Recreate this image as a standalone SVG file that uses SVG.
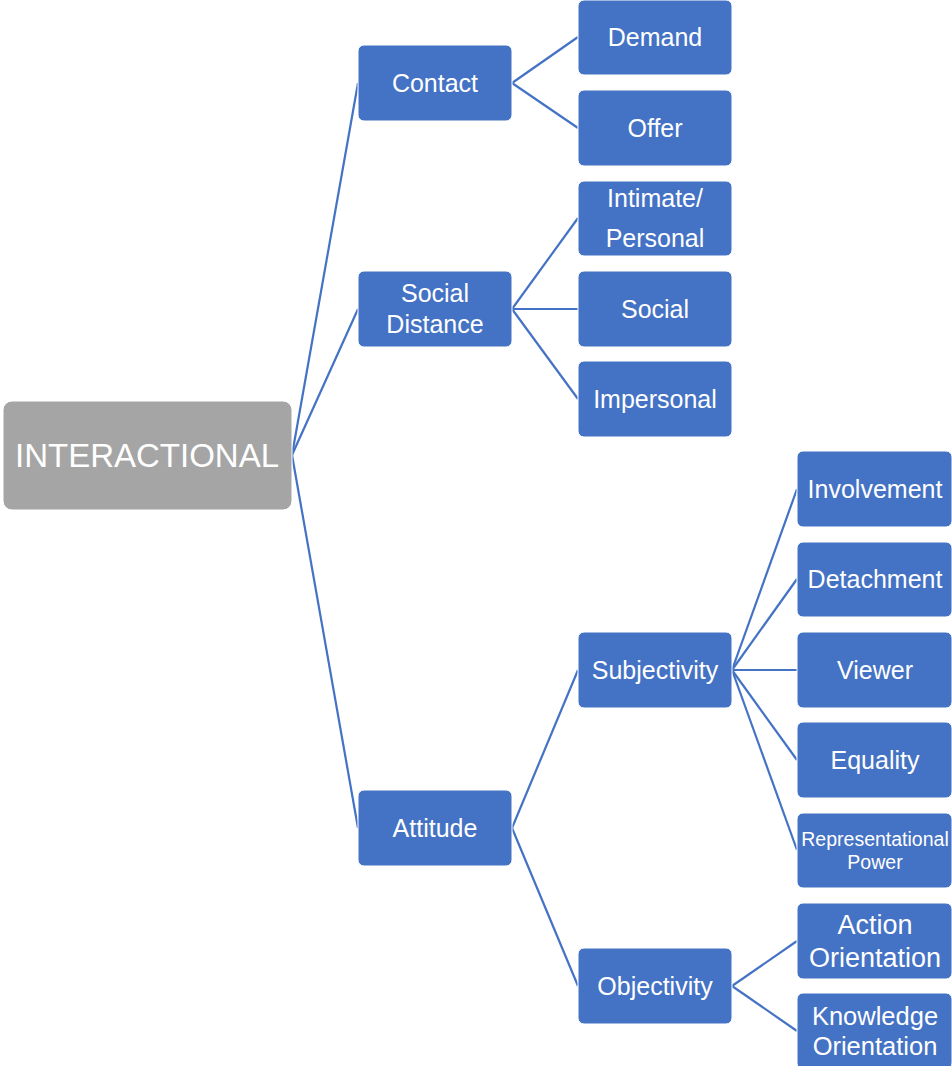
<svg xmlns="http://www.w3.org/2000/svg" width="952" height="1066" viewBox="0 0 952 1066">
<style>
.n{fill:#4472C4;stroke:#ffffff;stroke-width:1}
.r{fill:#A5A5A5;stroke:#ffffff;stroke-width:1}
text{font-family:"Liberation Sans",Arial,sans-serif;fill:#ffffff;text-anchor:middle;font-size:25px}
.c line{stroke:#4472C4;stroke-width:2.2}
</style>
<rect width="952" height="1066" fill="#ffffff"/>
<g class="c">
<line x1="292" y1="455" x2="358" y2="83"/>
<line x1="292" y1="455" x2="358" y2="309"/>
<line x1="292" y1="455" x2="358" y2="828"/>
<line x1="512" y1="83" x2="578" y2="37"/>
<line x1="512" y1="83" x2="578" y2="128"/>
<line x1="512" y1="309" x2="578" y2="218"/>
<line x1="512" y1="309" x2="578" y2="309"/>
<line x1="512" y1="309" x2="578" y2="399"/>
<line x1="512" y1="828" x2="578" y2="670"/>
<line x1="512" y1="828" x2="578" y2="986"/>
<line x1="732" y1="670" x2="797" y2="489"/>
<line x1="732" y1="670" x2="797" y2="579"/>
<line x1="732" y1="670" x2="797" y2="670"/>
<line x1="732" y1="670" x2="797" y2="760"/>
<line x1="732" y1="670" x2="797" y2="850"/>
<line x1="732" y1="986" x2="797" y2="941"/>
<line x1="732" y1="986" x2="797" y2="1031"/>
</g>
<g id="interactional"><rect class="r" x="3" y="401" width="289" height="109" rx="9"/><text x="147" y="467" style="font-size:33px">INTERACTIONAL</text></g>
<g id="contact"><rect class="n" x="358" y="45" width="154" height="76" rx="6"/><text x="435" y="92">Contact</text></g>
<g id="social-distance"><rect class="n" x="358" y="271" width="154" height="76" rx="6"/><text x="435" y="302">Social</text><text x="435" y="333">Distance</text></g>
<g id="attitude"><rect class="n" x="358" y="790" width="154" height="76" rx="6"/><text x="435" y="837">Attitude</text></g>
<g id="demand"><rect class="n" x="578" y="0" width="154" height="75" rx="6"/><text x="655" y="46">Demand</text></g>
<g id="offer"><rect class="n" x="578" y="90" width="154" height="76" rx="6"/><text x="655" y="137">Offer</text></g>
<g id="intimate"><rect class="n" x="578" y="181" width="154" height="75" rx="6"/><text x="655" y="207">Intimate/</text><text x="655" y="247">Personal</text></g>
<g id="social"><rect class="n" x="578" y="271" width="154" height="76" rx="6"/><text x="655" y="318">Social</text></g>
<g id="impersonal"><rect class="n" x="578" y="361" width="154" height="76" rx="6"/><text x="655" y="408">Impersonal</text></g>
<g id="subjectivity"><rect class="n" x="578" y="632" width="154" height="76" rx="6"/><text x="655" y="679">Subjectivity</text></g>
<g id="objectivity"><rect class="n" x="578" y="948" width="154" height="76" rx="6"/><text x="655" y="995">Objectivity</text></g>
<g id="involvement"><rect class="n" x="797" y="451" width="155" height="76" rx="6"/><text x="875" y="498">Involvement</text></g>
<g id="detachment"><rect class="n" x="797" y="542" width="155" height="75" rx="6"/><text x="875" y="588">Detachment</text></g>
<g id="viewer"><rect class="n" x="797" y="632" width="155" height="76" rx="6"/><text x="875" y="679">Viewer</text></g>
<g id="equality"><rect class="n" x="797" y="722" width="155" height="76" rx="6"/><text x="875" y="769">Equality</text></g>
<g id="representational-power"><rect class="n" x="797" y="813" width="155" height="75" rx="6"/><text x="875" y="846" style="font-size:19.5px">Representational</text><text x="875" y="869" style="font-size:19.5px">Power</text></g>
<g id="action-orientation"><rect class="n" x="797" y="903" width="155" height="76" rx="6"/><text x="875" y="934" style="font-size:27px">Action</text><text x="875" y="967" style="font-size:27px">Orientation</text></g>
<g id="knowledge-orientation"><rect class="n" x="797" y="993" width="155" height="76" rx="6"/><text x="875" y="1025" style="font-size:25.5px">Knowledge</text><text x="875" y="1055" style="font-size:25.5px">Orientation</text></g>
</svg>
